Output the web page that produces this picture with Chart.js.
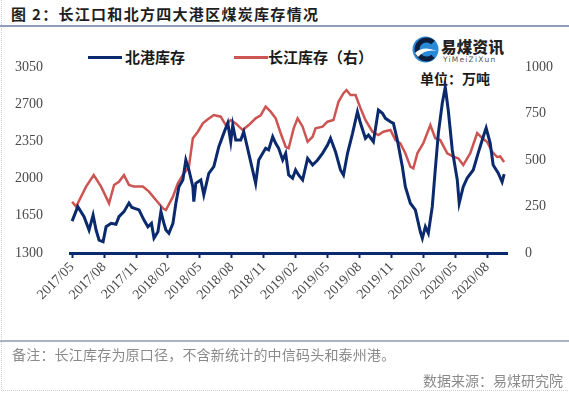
<!DOCTYPE html>
<html>
<head>
<meta charset="utf-8">
<script src="https://cdn.jsdelivr.net/npm/chart.js@4"></script>
<style>
body{margin:0;background:#fff;}
#wrap{position:relative;width:569px;height:393px;overflow:hidden;font-family:"Noto Sans CJK SC",sans-serif;}
#frame{position:absolute;left:1px;top:0;width:566px;height:390px;border-left:1px dotted #cfcfcf;border-bottom:1px dotted #cfcfcf;}
#title{position:absolute;left:11px;top:4px;font-size:15px;font-weight:700;color:#1e1e1e;line-height:20px;white-space:nowrap;letter-spacing:1.3px;}
#topline{position:absolute;left:0;top:25px;width:569px;height:2px;background:#8e9dbb;}
#botline{position:absolute;left:0;top:340px;width:569px;height:2px;background:#a9b4c9;}
#note{position:absolute;left:12px;top:345px;font-size:14px;color:#8a8a8a;line-height:18px;white-space:nowrap;letter-spacing:0.2px;}
#src{position:absolute;right:6px;top:371px;font-size:14px;color:#8a8a8a;line-height:18px;white-space:nowrap;}
.leg{position:absolute;top:47px;font-size:15px;font-weight:700;color:#1a1a1a;line-height:20px;white-space:nowrap;}
.swatch{position:absolute;top:56px;height:3px;}
#logo{position:absolute;left:412px;top:36px;}
#logotxt{position:absolute;left:441px;top:37px;font-size:15.5px;font-weight:900;color:#222;line-height:18px;letter-spacing:0.3px;}
#logosub{position:absolute;left:443px;top:55px;font-family:"DejaVu Sans",sans-serif;font-size:7.5px;color:#555;letter-spacing:1.2px;line-height:9px;}
#unit{position:absolute;left:420px;top:68px;font-size:14px;font-weight:700;color:#1a1a1a;line-height:20px;white-space:nowrap;}
canvas{position:absolute;left:0;top:0;}
</style>
</head>
<body>
<div id="wrap">
<div id="frame"></div>
<div id="title">图 2：长江口和北方四大港区煤炭库存情况</div>
<div id="topline"></div>

<div class="swatch" style="left:88px;width:34px;background:#0b2a6e;"></div>
<div class="leg" style="left:125px;">北港库存</div>
<div class="swatch" style="left:234px;width:34px;background:#cc5452;"></div>
<div class="leg" style="left:268px;">长江库存（右）</div>

<svg id="logo" width="27" height="27" viewBox="0 0 27 27">
<circle cx="13.5" cy="13.5" r="13" fill="#2a8ad6"/>
<path d="M21 6.5 A9.5 9.5 0 1 0 21 20.5" stroke="#0c1f3f" stroke-width="5" fill="none"/>
<path d="M3 17 Q11 9 25 15 Q13 13 6 21 Z" fill="#ffffff"/>
</svg>
<div id="logotxt">易煤资讯</div>
<div id="logosub">YiMeiZiXun</div>
<div id="unit">单位：万吨</div>

<canvas id="mainChart" width="569" height="393"></canvas>

<div id="botline"></div>
<div id="note">备注：长江库存为原口径，不含新统计的中信码头和泰州港。</div>
<div id="src">数据来源：易煤研究院</div>
</div>

<script>

/* DATA (time = months since 2017/05) */

const tickLabels = ["2017/05","2017/08","2017/11","2018/02","2018/05","2018/08","2018/11","2019/02","2019/05","2019/08","2019/11","2020/02","2020/05","2020/08"];

const tickPos = [0,3,6,9,12,15,18,21,24,27,30,33,36,39];

const leftTicks = [1300,1650,2000,2350,2700,3050];

const rightTicks = [0,250,500,750,1000];

/* 北港库存 (left axis) */

const northT = [0.0,0.53,1.12,1.59,1.97,2.25,2.53,2.91,3.19,3.66,4.12,4.40,4.87,5.34,5.62,6.28,6.75,7.12,7.45,7.69,8.06,8.34,8.62,8.81,9.09,9.47,9.75,10.03,10.40,10.68,10.97,11.34,11.43,11.62,12.09,12.37,12.84,13.31,13.78,14.25,14.62,14.90,15.09,15.37,15.84,16.12,16.59,17.24,17.53,17.90,18.18,18.46,18.84,19.12,19.40,19.78,20.06,20.34,20.71,20.99,21.27,21.65,22.12,22.59,23.06,23.52,23.99,24.27,24.74,25.21,25.49,25.87,26.34,26.80,27.09,27.55,27.84,28.30,28.77,29.15,29.43,29.90,30.18,30.55,31.02,31.30,31.77,32.24,32.71,32.90,33.18,33.46,33.83,34.11,34.40,34.77,35.05,35.33,35.71,36.18,36.36,36.74,37.11,37.68,38.14,38.61,38.89,39.27,39.55,40.02,40.39,40.58];

const northV = [1600,1736,1642,1516,1657,1516,1422,1406,1547,1580,1570,1642,1689,1770,1728,1705,1610,1547,1580,1440,1500,1689,1580,1516,1486,1580,1770,1924,1987,2175,2081,1924,1783,1956,1987,1846,2050,2112,2300,2428,2523,2347,2504,2363,2363,2441,2238,1956,2175,2238,2285,2270,2394,2332,2285,2175,2238,2034,2003,2081,2034,1987,2190,2128,2175,2238,2316,2379,2253,2081,2034,2238,2426,2629,2520,2379,2410,2347,2645,2614,2567,2535,2520,2363,2112,1924,1768,1705,1500,1438,1547,1485,1736,2081,2426,2708,2860,2645,2269,1987,1768,1924,2005,2081,2240,2391,2476,2335,2128,2053,1968,2043];

/* 长江库存 (right axis) */

const yangtzeT = [0.0,0.37,1.31,2.03,2.72,3.47,3.94,4.40,4.87,5.34,5.81,6.65,7.22,7.87,8.53,8.81,9.47,9.93,10.40,10.97,11.34,11.81,12.28,12.75,13.31,13.96,14.43,14.90,15.37,16.03,16.59,17.24,17.71,18.18,18.65,19.12,19.59,20.06,20.34,20.81,21.18,21.65,22.12,22.59,22.87,23.52,23.99,24.55,25.02,25.49,25.77,26.15,26.62,27.09,27.55,28.21,28.77,29.24,29.90,30.37,30.83,31.30,31.77,32.05,32.43,32.99,33.65,34.11,34.58,35.24,35.80,36.27,36.74,37.40,38.05,38.52,38.99,39.46,39.93,40.21,40.58];

const yangtzeV = [276,249,357,419,357,267,366,383,419,366,357,357,330,285,240,231,303,375,419,464,617,652,697,719,742,733,688,715,697,661,688,724,740,787,760,724,644,571,563,670,724,679,598,625,670,679,706,715,813,859,876,849,849,778,715,652,634,652,661,607,590,536,464,455,536,590,688,617,607,536,518,509,473,537,645,618,597,543,516,519,489];

/* CHART SETUP */

const navy = "#0b2a6e";

const tickFont = {family:"'Liberation Serif', serif", size:14};

const ctx = document.getElementById("mainChart");

const chart = new Chart(ctx, {

type:"line",

data:{

datasets:[

{
label:"北港库存",
data:northT.map((t,i)=>({x:t,y:northV[i]})),
borderColor:navy,
borderWidth:3,
pointRadius:0,
tension:0,
yAxisID:"y",
order:0
},

{
label:"长江库存（右）",
data:yangtzeT.map((t,i)=>({x:t,y:yangtzeV[i]})),
borderColor:"#cc5452",
borderWidth:2.5,
pointRadius:0,
tension:0,
yAxisID:"y1",
order:1
}

]

},

options:{

responsive:false,
animation:false,

layout:{
padding:{left:0,right:0,top:67,bottom:90}
},

plugins:{
legend:{display:false},
tooltip:{enabled:false}
},

scales:{

x:{
type:"linear",
min:-0.2,
max:40.85,
afterBuildTicks:(scale)=>{
scale.ticks = tickPos.map(v=>({value:v}));
},
afterFit:(scale)=>{ scale.height = 50; },
ticks:{
autoSkip:false,
maxRotation:45,
minRotation:45,
padding:1,
color:"#4a4a4a",
font:tickFont,
callback:(value,index)=>tickLabels[index]
},
grid:{
drawOnChartArea:false,
drawTicks:true,
tickLength:5,
tickColor:navy,
tickWidth:2,
color:navy
},
border:{
color:navy,
width:3
}
},

y:{
position:"left",
min:1300,
max:3050,
afterBuildTicks:(scale)=>{
scale.ticks = leftTicks.map(v=>({value:v}));
},
afterFit:(scale)=>{ scale.width = 70; },
ticks:{
padding:19,
color:"#4a4a4a",
font:tickFont,
callback:(value)=>String(value)
},
grid:{display:false},
border:{display:false}
},

y1:{
position:"right",
min:0,
max:1000,
afterBuildTicks:(scale)=>{
scale.ticks = rightTicks.map(v=>({value:v}));
},
afterFit:(scale)=>{ scale.width = 62; },
ticks:{
padding:10,
color:"#4a4a4a",
font:tickFont,
callback:(value)=>String(value)
},
grid:{display:false},
border:{display:false}
}

}

}

});

</script>
</body>
</html>
